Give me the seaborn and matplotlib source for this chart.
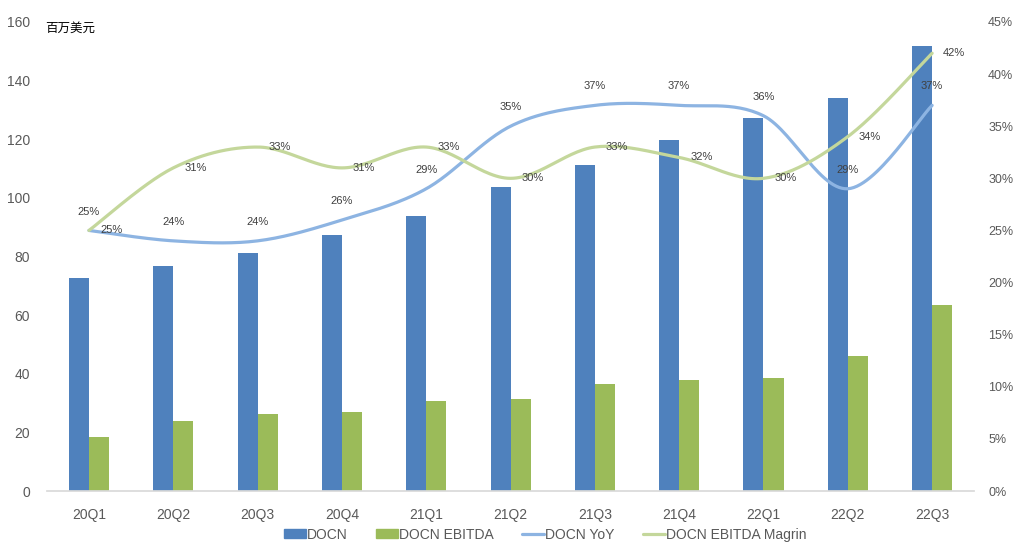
import numpy as np
import pandas as pd
import matplotlib
matplotlib.use('Agg')
import matplotlib.pyplot as plt
import seaborn as sns
from matplotlib.patches import Patch
from matplotlib.lines import Line2D

# quarterly data (USD millions / %)
quarters = ['20Q1', '20Q2', '20Q3', '20Q4', '21Q1', '21Q2', '21Q3', '21Q4', '22Q1', '22Q2', '22Q3']
revenue = [72.7, 76.9, 81.3, 87.4, 93.7, 103.8, 111.3, 119.9, 127.3, 133.9, 151.9]
ebitda = [18.4, 23.9, 26.4, 27.0, 30.7, 31.4, 36.5, 37.9, 38.6, 46.1, 63.5]
yoy = [25.0, 24.0, 24.0, 26.0, 29.0, 35.0, 37.0, 37.0, 36.0, 29.0, 37.0]
margin = [25.0, 31.0, 33.0, 31.0, 33.0, 30.0, 33.0, 32.0, 30.0, 34.0, 42.0]

sns.set_theme(style='white')
plt.rcParams['font.family'] = ['Liberation Sans', 'Noto Sans CJK SC']

c_rev = '#4F81BD'
c_ebitda = '#9BBB59'
c_yoy = '#8DB4E2'
c_margin = '#C4D79B'
tick_color = '#595959'

bars = pd.DataFrame({
    'quarter': quarters * 2,
    'value': revenue + ebitda,
    'series': ['DOCN'] * len(quarters) + ['DOCN EBITDA'] * len(quarters),
})

fig = plt.figure(figsize=(10.17, 5.44), dpi=100)
ax = fig.add_axes([0.046, 0.0974, 0.912, 0.8622])

sns.barplot(data=bars, x='quarter', y='value', hue='series', order=quarters,
            palette=[c_rev, c_ebitda], width=0.475, gap=0, saturation=1,
            linewidth=0, ax=ax, legend=False)
ax.set_ylim(0, 160)
ax.set_yticks(range(0, 161, 20))
ax.set_xlim(-0.5, len(quarters) - 0.5)
ax.set_xlabel('')
ax.set_ylabel('')
for s in ['top', 'right', 'left']:
    ax.spines[s].set_visible(False)
ax.spines['bottom'].set_color('#D9D9D9')
ax.tick_params(axis='both', length=0, colors=tick_color, labelsize=10)
ax.tick_params(axis='x', pad=12)
ax.tick_params(axis='y', pad=12)


def smooth(xs, ys, n=30):
    # Excel-style smoothed line (cubic Bezier / Catmull-Rom)
    p = np.column_stack([xs, ys]).astype(float)
    p = np.vstack([p[0], p, p[-1]])
    out = []
    t = np.linspace(0, 1, n)[:, None]
    for i in range(1, len(p) - 2):
        p0, p3 = p[i], p[i + 1]
        c1 = p0 + (p[i + 1] - p[i - 1]) / 6
        c2 = p3 - (p[i + 2] - p[i]) / 6
        seg = ((1 - t) ** 3) * p0 + 3 * ((1 - t) ** 2) * t * c1 + 3 * (1 - t) * t ** 2 * c2 + t ** 3 * p3
        out.append(seg if i == 1 else seg[1:])
    out = np.vstack(out)
    return out[:, 0], out[:, 1]


ax2 = ax.twinx()
x = np.arange(len(quarters))
sx, sy = smooth(x, yoy)
ax2.plot(sx, sy, color=c_yoy, lw=2.3, solid_capstyle='round')
sx, sy = smooth(x, margin)
ax2.plot(sx, sy, color=c_margin, lw=2.3, solid_capstyle='round')
ax2.set_ylim(0, 45)
ax2.set_yticks(range(0, 46, 5))
ax2.set_yticklabels([f'{v}%' for v in range(0, 46, 5)])
ax2.set_xlim(-0.5, len(quarters) - 0.5)
for s in ax2.spines.values():
    s.set_visible(False)
ax2.tick_params(axis='y', length=0, colors=tick_color, labelsize=9, pad=10)
ax2.grid(False)

for i in range(len(quarters)):
    ax2.annotate(f'{yoy[i]:.0f}%', (x[i], yoy[i]), xytext=(0, 10), textcoords='offset points',
                 ha='center', va='bottom', fontsize=8, color='#404040')
    ax2.annotate(f'{margin[i]:.0f}%', (x[i], margin[i]), xytext=(8, 0), textcoords='offset points',
                 ha='left', va='center', fontsize=8, color='#404040')

fig.text(0.044, 0.948, '百万美元', fontsize=9, color='black',
         family=['Noto Sans CJK SC', 'DejaVu Sans'], ha='left', va='center')

handles = [
    Patch(color=c_rev, label='DOCN'),
    Patch(color=c_ebitda, label='DOCN EBITDA'),
    Line2D([0], [0], color=c_yoy, lw=2.3, label='DOCN YoY'),
    Line2D([0], [0], color=c_margin, lw=2.3, label='DOCN EBITDA Magrin'),
]
leg = fig.legend(handles=handles, loc='center', bbox_to_anchor=(0.536, 0.017), ncol=4,
                 frameon=False, fontsize=10, handlelength=1.6, handleheight=0.6,
                 handletextpad=0.1, columnspacing=2.0)
for t in leg.get_texts():
    t.set_color(tick_color)

fig.savefig('out.png', dpi=100)
